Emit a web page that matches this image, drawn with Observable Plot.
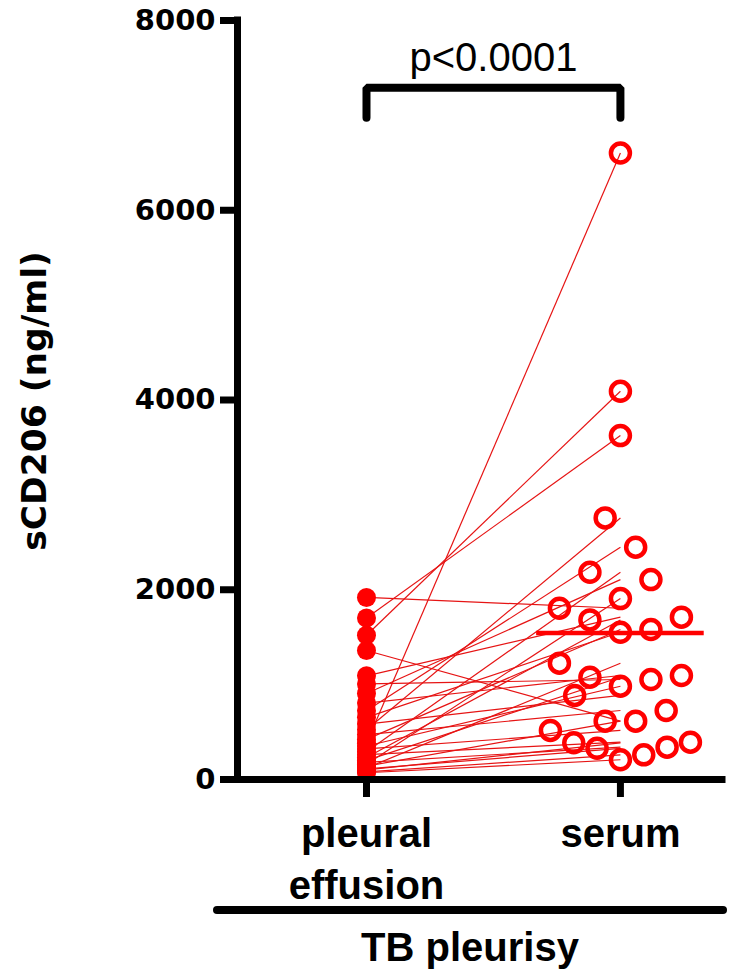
<!DOCTYPE html>
<html>
<head>
<meta charset="utf-8">
<script src="https://cdn.jsdelivr.net/npm/d3@7"></script>
<script src="https://cdn.jsdelivr.net/npm/@observablehq/plot@0.6"></script>
<style>
  body { margin: 0; background: #fff; }
  #wrap { position: relative; width: 750px; height: 975px; overflow: hidden; background: #fff; }
  #wrap svg { position: absolute; left: 0; top: 0; }
  .grp-line { position: absolute; left: 213px; top: 906px; width: 514px; height: 8px; background: #000; border-radius: 4px; }
  .grp-label { position: absolute; left: 270px; width: 400px; top: 927px; text-align: center;
               font: bold 40px "Liberation Sans", Arial, sans-serif; line-height: 40px; color: #000; }
</style>
</head>
<body>
<div id="wrap"></div>
<script>
// ---------------- data ----------------
const categories = ["pleural\neffusion", "serum"];
// paired observations: pleural[i] <-> serum[i]  (sCD206, ng/ml)
const pleural = [383, 1521, 1703, 524, 725, 292, 907, 161, 1919, 1093, 232, 423, 655, 121, 806, 201, 1007, 353, 584, 473, 1360, 141, 322, 262, 101, 181, 111, 81, 71];
const serum   = [6603, 4092, 3625, 2757, 2448, 2184, 2107, 1907, 1805, 1711, 1682, 1581, 1552, 1226, 1096, 1078, 1054, 983, 886, 727, 615, 615, 517, 393, 387, 341, 329, 260, 208];
const yTicks = [0, 2000, 4000, 6000, 8000];
const yLabel = "sCD206 (ng/ml)";
const pText = "p<0.0001";
const groupLabel = "TB pleurisy";
// significance bracket levels (data units)
const bracketLow = 6976, bracketHigh = 7292, pTextLevel = 7471;

// ---------------- layout ----------------
const W = 750, H = 900, mL = 237, mR = 28, mT = 20, mB = 121;
const xDomain = [-0.508, 1.402];
const yDomain = [0, 8000];
const pxPerX = (W - mL - mR) / (xDomain[1] - xDomain[0]);
const pxPerY = (H - mT - mB) / (yDomain[1] - yDomain[0]);
const RED = "#ff0000", LINE_RED = "#e61414";
const dotR = 9.5, ringW = 4.5;

// GraphPad-style scatter: group close values into rows, spread each row
// symmetrically (outermost-left, outermost-right, ..., centre).
function rowScatter(values, binPx, maxStep, maxHalf) {
  const order = d3.range(values.length).sort((a, b) => values[b] - values[a]);
  const off = new Array(values.length).fill(0);
  let i = 0;
  while (i < order.length) {
    const start = values[order[i]] * pxPerY;
    const bin = [order[i]];
    let j = i + 1;
    while (j < order.length && start - values[order[j]] * pxPerY <= binPx) { bin.push(order[j]); j++; }
    const n = bin.length;
    const step = n > 1 ? Math.min(maxStep, 2 * maxHalf / (n - 1)) : 0;
    const slots = d3.range(n).map(k => (k - (n - 1) / 2) * step);
    const seq = [];
    let lo = 0, hi = n - 1;
    while (lo <= hi) { seq.push(slots[lo]); if (hi !== lo) seq.push(slots[hi]); lo++; hi--; }
    bin.forEach((idx, k) => off[idx] = seq[k]);
    i = j;
  }
  return off;
}
const offsets = rowScatter(serum, 31, 30.5, 70);
const serumRows = serum.map((v, i) => ({v, x: 1 + offsets[i] / pxPerX}));
const pairs = pleural.map((p, i) => ({p, s: serum[i]}));
const serumMean = d3.mean(serum);

const chart = Plot.plot({
  width: W, height: H,
  marginLeft: mL, marginRight: mR, marginTop: mT, marginBottom: mB,
  style: {background: "transparent", overflow: "visible"},
  x: {domain: xDomain},
  y: {domain: yDomain, label: null},
  marks: [
    // paired lines
    Plot.link(pairs, {x1: () => 0, y1: "p", x2: () => 1, y2: "s", stroke: LINE_RED, strokeWidth: 1.2}),
    // serum mean line
    Plot.ruleY([serumMean], {x1: 1 - 0.33, x2: 1 + 0.33, stroke: RED, strokeWidth: 4.5}),
    // serum open circles
    Plot.dot(serumRows, {x: "x", y: "v", r: dotR, stroke: RED, strokeWidth: ringW, fill: "none"}),
    // pleural filled dots
    Plot.dot(pleural, {x: () => 0, y: d => d, r: dotR, fill: RED, stroke: "none"}),
    // axes
    Plot.axisY(yTicks, {tickSize: 17, tickPadding: 5, strokeWidth: 7, fontSize: 29, fontWeight: "bold",
      fontFamily: "DejaVu Sans", tickFormat: d => String(d), label: null, color: "#000"}),
    Plot.axisX([0, 1], {tickSize: 18, tickPadding: 13, strokeWidth: 7, fontSize: 40, fontWeight: "bold",
      fontFamily: "Liberation Sans", lineHeight: 1.3, tickFormat: d => categories[d], label: null, color: "#000"}),
    Plot.ruleX([xDomain[0]], {stroke: "#000", strokeWidth: 7, strokeLinecap: "square"}),
    Plot.ruleY([0], {stroke: "#000", strokeWidth: 7, strokeLinecap: "square"}),
    // y label
    Plot.text([yLabel], {text: d => d, frameAnchor: "left", rotate: -90, dx: -192, dy: 1,
      lineAnchor: "bottom", textAnchor: "middle", fontSize: 34.5, fontWeight: "bold", fontFamily: "DejaVu Sans", fill: "#000"}),
    // significance bracket
    Plot.line([[0, bracketLow], [0, bracketHigh], [1, bracketHigh], [1, bracketLow]],
      {x: d => d[0], y: d => d[1], stroke: "#000", strokeWidth: 8, strokeLinecap: "round", strokeLinejoin: "miter"}),
    Plot.text([pText], {text: d => d, x: () => 0.5, y: () => pTextLevel, lineAnchor: "bottom",
      fontSize: 40, fontFamily: "Liberation Sans", fill: "#000"})
  ]
});

const wrap = document.getElementById("wrap");
wrap.appendChild(chart);
const gl = document.createElement("div"); gl.className = "grp-line"; wrap.appendChild(gl);
const gt = document.createElement("div"); gt.className = "grp-label"; gt.textContent = groupLabel; wrap.appendChild(gt);
</script>
</body>
</html>
